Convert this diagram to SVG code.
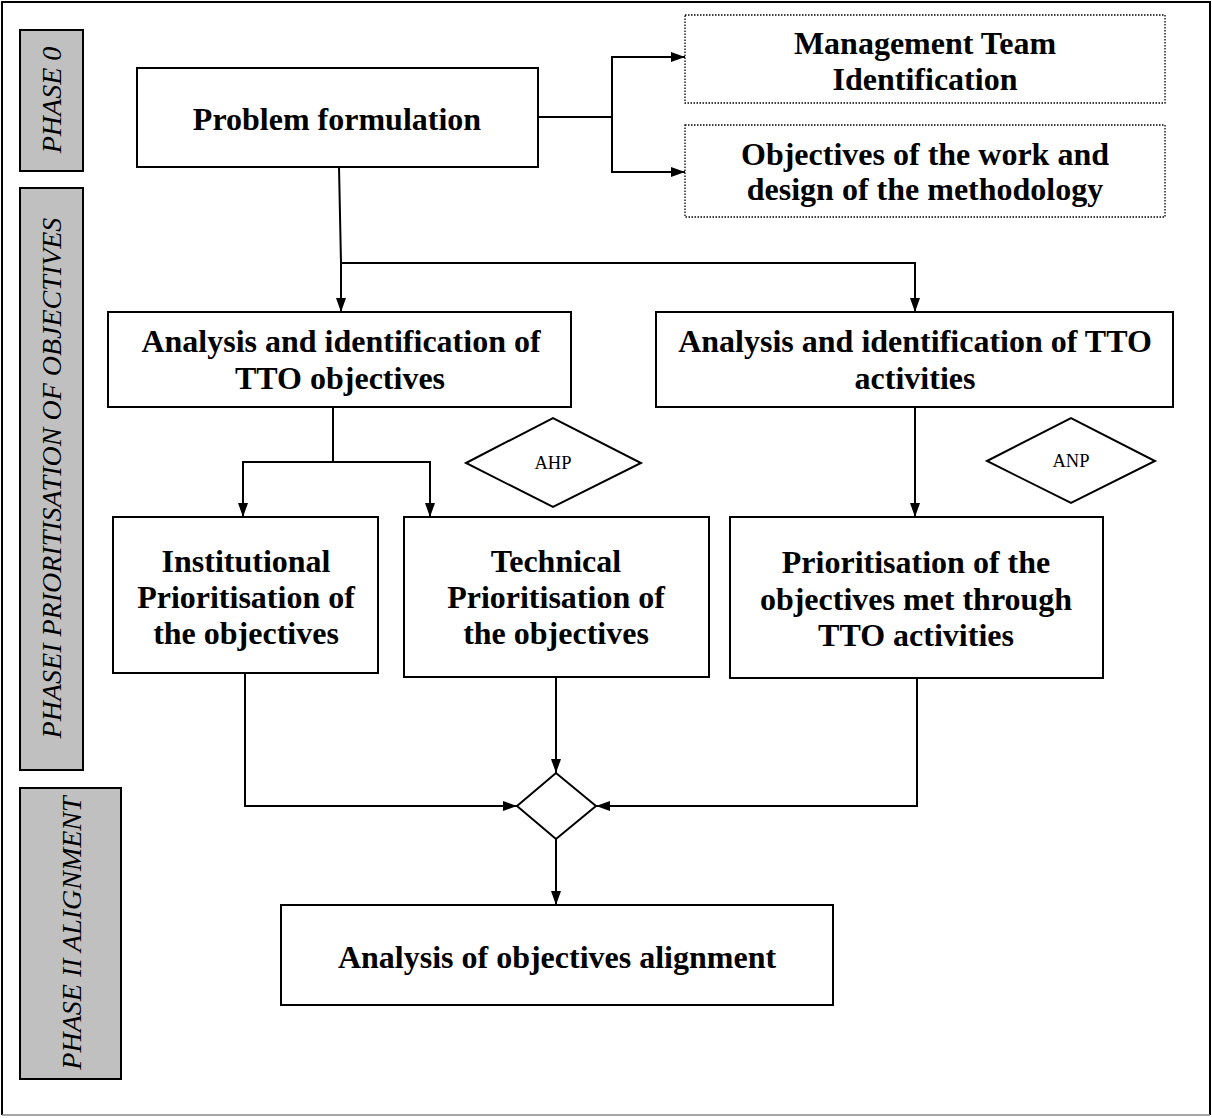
<svg xmlns="http://www.w3.org/2000/svg" width="1212" height="1118" viewBox="0 0 1212 1118">
<style>
.box{fill:#fff;stroke:#000;stroke-width:2}
.dot{fill:#fff;stroke:#000;stroke-width:1.3;stroke-dasharray:1.5 1.5}
.phase{fill:#c0c0c0;stroke:#000;stroke-width:2}
.t{font-family:"Liberation Serif","Times New Roman",serif;font-weight:bold;font-size:32px;text-anchor:middle;fill:#000}
.p{font-family:"Liberation Serif","Times New Roman",serif;font-style:italic;font-size:28px;text-anchor:middle;fill:#000}
.s{font-family:"Liberation Serif","Times New Roman",serif;font-size:18.5px;text-anchor:middle;fill:#000}
.c{fill:none;stroke:#000;stroke-width:2}
</style>
<defs>
<marker id="ah" viewBox="0 0 14 10" refX="14" refY="5" markerWidth="14" markerHeight="10" markerUnits="userSpaceOnUse" orient="auto">
<path d="M0,0 L14,5 L0,10 z" fill="#000"/>
</marker>
</defs>
<rect x="0" y="0" width="1212" height="1118" fill="#fff"/>
<path d="M2,1115 L2,2 L1210,2 L1210,1115" fill="none" stroke="#000" stroke-width="2"/>
<line x1="2" y1="1115" x2="1210" y2="1115" stroke="#888" stroke-width="1.5"/>

<g id="phase0"><rect class="phase" x="20" y="30" width="63" height="141"/><text class="p" transform="translate(61,100) rotate(-90)">PHASE 0</text></g>
<g id="phase1"><rect class="phase" x="20" y="188" width="63" height="582"/><text class="p" transform="translate(61,478) rotate(-90)">PHASEI PRIORITISATION OF OBJECTIVES</text></g>
<g id="phase2"><rect class="phase" x="20" y="788" width="101" height="291"/><text class="p" transform="translate(81,933) rotate(-90)">PHASE II ALIGNMENT</text></g>

<g id="connectors">
<line class="c" x1="538" y1="117" x2="612" y2="117"/>
<polyline class="c" points="685,57 612,57 612,172 685,172"/>
<line class="c" x1="612" y1="57" x2="685" y2="57" marker-end="url(#ah)"/>
<line class="c" x1="612" y1="172" x2="685" y2="172" marker-end="url(#ah)"/>
<line class="c" x1="339" y1="167" x2="341" y2="263"/>
<line class="c" x1="341" y1="263" x2="341" y2="312" marker-end="url(#ah)"/>
<polyline class="c" points="341,263 915,263 915,312" marker-end="url(#ah)"/>
<line class="c" x1="333" y1="407" x2="333" y2="462"/>
<polyline class="c" points="243,517 243,462 430,462 430,517"/>
<line class="c" x1="243" y1="462" x2="243" y2="517" marker-end="url(#ah)"/>
<line class="c" x1="430" y1="462" x2="430" y2="517" marker-end="url(#ah)"/>
<line class="c" x1="915" y1="407" x2="915" y2="517" marker-end="url(#ah)"/>
<polyline class="c" points="245,673 245,806 517,806" marker-end="url(#ah)"/>
<line class="c" x1="556" y1="677" x2="556" y2="773" marker-end="url(#ah)"/>
<polyline class="c" points="917,678 917,806 596,806" marker-end="url(#ah)"/>
<line class="c" x1="556" y1="839" x2="556" y2="905" marker-end="url(#ah)"/>
</g>

<g id="problem"><rect class="box" x="137" y="68" width="401" height="99"/><text class="t" x="337" y="130">Problem formulation</text></g>
<g id="mgmt"><rect class="dot" x="685" y="15" width="480" height="88"/><text class="t" x="925" y="54">Management Team</text><text class="t" x="925" y="90">Identification</text></g>
<g id="objwork"><rect class="dot" x="685" y="125" width="480" height="92"/><text class="t" x="925" y="165">Objectives of the work and</text><text class="t" x="925" y="200">design of the methodology</text></g>
<g id="anaobj"><rect class="box" x="108" y="312" width="463" height="95"/><text class="t" x="341" y="352">Analysis and identification of</text><text class="t" x="340" y="389">TTO objectives</text></g>
<g id="anaact"><rect class="box" x="656" y="312" width="517" height="95"/><text class="t" x="915" y="352">Analysis and identification of TTO</text><text class="t" x="915" y="389">activities</text></g>
<g id="ahp"><polygon class="box" points="466,463 553,418 641,463 553,507"/><text class="s" x="553" y="469">AHP</text></g>
<g id="anp"><polygon class="box" points="987,461 1071,418 1155,461 1071,503"/><text class="s" x="1071" y="467">ANP</text></g>
<g id="inst"><rect class="box" x="113" y="517" width="265" height="156"/><text class="t" x="246" y="572">Institutional</text><text class="t" x="246" y="608">Prioritisation of</text><text class="t" x="246" y="644">the objectives</text></g>
<g id="tech"><rect class="box" x="404" y="517" width="305" height="160"/><text class="t" x="556" y="572">Technical</text><text class="t" x="556" y="608">Prioritisation of</text><text class="t" x="556" y="644">the objectives</text></g>
<g id="prio"><rect class="box" x="730" y="517" width="373" height="161"/><text class="t" x="916" y="573">Prioritisation of the</text><text class="t" x="916" y="610">objectives met through</text><text class="t" x="916" y="646">TTO activities</text></g>
<g id="decision"><polygon class="box" points="517,806 556,773 596,806 556,839"/></g>
<g id="align"><rect class="box" x="281" y="905" width="552" height="100"/><text class="t" x="557" y="968">Analysis of objectives alignment</text></g>
</svg>
